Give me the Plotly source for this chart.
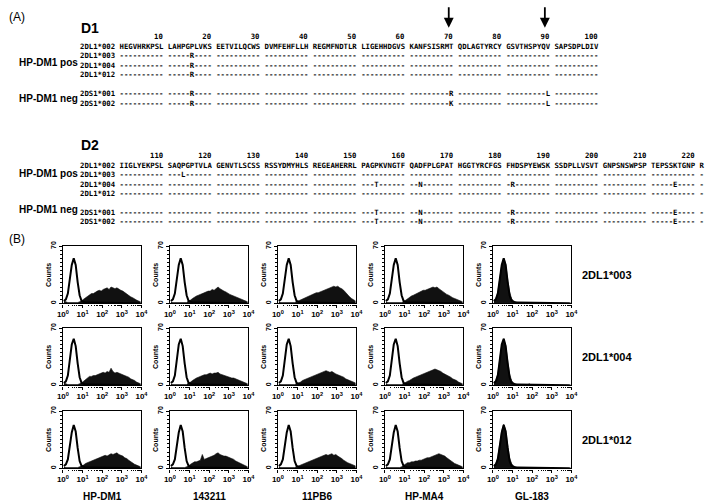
import plotly.graph_objects as go

W, H = 709, 502

# ---------------- Panel A data: sequence alignment ----------------
d1_start = 1
d1_reference = ["HEGVHRKPSL", "LAHPGPLVKS", "EETVILQCWS", "DVMFEHFLLH", "REGMFNDTLR",
                "LIGEHHDGVS", "KANFSISRMT", "QDLAGTYRCY", "GSVTHSPYQV", "SAPSDPLDIV"]
d1_alleles = ["2DL1*003", "2DL1*004", "2DL1*012", "2DS1*001", "2DS1*002"]
d1_variants = [{16: "R"}, {16: "R"}, {16: "R"},
               {16: "R", 70: "R", 90: "L"}, {16: "R", 70: "K", 90: "L"}]
d1_numbers = [10, 20, 30, 40, 50, 60, 70, 80, 90, 100]
d1_arrows = [70, 90]

d2_start = 101
d2_reference = ["IIGLYEKPSL", "SAQPGPTVLA", "GENVTLSCSS", "RSSYDMYHLS", "REGEAHERRL",
                "PAGPKVNGTF", "QADFPLGPAT", "HGGTYRCFGS", "FHDSPYEWSK", "SSDPLLVSVT",
                "GNPSNSWPSP", "TEPSSKTGNP", "R"]
d2_alleles = ["2DL1*003", "2DL1*004", "2DL1*012", "2DS1*001", "2DS1*002"]
d2_variants = [{114: "L"}, {154: "T", 163: "N", 182: "R", 216: "E"}, {},
               {154: "T", 163: "N", 182: "R", 216: "E"},
               {154: "T", 163: "N", 182: "R", 216: "E"}]
d2_numbers = [110, 120, 130, 140, 150, 160, 170, 180, 190, 200, 210, 220]
ref_allele = "2DL1*002"

# ---------------- Panel B data: flow cytometry histograms ----------------
antibodies = ["HP-DM1", "143211", "11PB6", "HP-MA4", "GL-183"]
transfectants = ["2DL1*003", "2DL1*004", "2DL1*012"]
log_bin_centers = [0.05, 0.15, 0.25, 0.35, 0.45, 0.55, 0.65, 0.75, 0.85, 0.95,
                   1.05, 1.15, 1.25, 1.35, 1.45, 1.55, 1.65, 1.75, 1.85, 1.95,
                   2.05, 2.15, 2.25, 2.35, 2.45, 2.55, 2.65, 2.75, 2.85, 2.95,
                   3.05, 3.15, 3.25, 3.35, 3.45, 3.55, 3.65, 3.75, 3.85, 3.95]

ctrl_003 = [3, 5, 12, 28, 47, 55, 47, 26, 10, 3, 1.5, 1, 1, 1, 1, 0.5, 0.5, 0.5, 0.5, 0.5,
            0.5, 0.5, 0.5, 0.5, 0.5, 0.5, 0.5, 0.5, 0.5, 0.5, 0.3, 0.3, 0.3, 0.3, 0.3, 0.2, 0.2, 0.2, 0.1, 0]
ctrl_004 = [3, 5, 12, 30, 50, 57, 48, 27, 10, 3, 1.5, 1, 1, 1, 1, 0.5, 0.5, 0.5, 0.5, 0.5,
            0.5, 0.5, 0.5, 0.5, 0.5, 0.5, 0.5, 0.5, 0.5, 0.5, 0.3, 0.3, 0.3, 0.3, 0.3, 0.2, 0.2, 0.2, 0.1, 0]
ctrl_012 = [3, 5, 11, 26, 44, 53, 45, 25, 9, 3, 1.5, 1, 1, 1, 1, 0.5, 0.5, 0.5, 0.5, 0.5,
            0.5, 0.5, 0.5, 0.5, 0.5, 0.5, 0.5, 0.5, 0.5, 0.5, 0.3, 0.3, 0.3, 0.3, 0.3, 0.2, 0.2, 0.2, 0.1, 0]

hpdm1_003 = [3, 2, 1, 1, 1, 1, 1, 1, 2, 3, 5, 7, 9, 11, 12, 12, 14, 15, 16, 15,
             17, 18, 19, 17, 20, 19, 18, 19, 17, 16, 15, 13, 12, 10, 8, 7, 5, 4, 3, 2]
m143211_003 = [2, 1, 1, 1, 1, 1, 1, 1, 1, 3, 4, 6, 8, 9, 10, 11, 12, 13, 14, 15,
               15, 17, 16, 18, 20, 18, 16, 15, 14, 12, 11, 10, 9, 8, 7, 6, 5, 4, 3, 2]
pb6_003 = [2, 1, 1, 1, 1, 1, 1, 1, 1, 2, 3, 4, 5, 6, 8, 9, 10, 11, 12, 13,
           13, 14, 15, 16, 17, 18, 19, 20, 21, 20, 21, 19, 18, 16, 13, 10, 8, 6, 4, 3]
hpma4_003 = [2, 1, 1, 1, 1, 1, 1, 1, 1, 2, 4, 5, 7, 9, 10, 11, 12, 14, 15, 16,
             16, 17, 18, 19, 20, 19, 20, 18, 16, 14, 12, 11, 10, 8, 7, 6, 5, 4, 3, 2]
gl183_003 = [3, 6, 14, 31, 47, 55, 48, 30, 14, 6, 3, 2, 1, 1, 1, 1, 0.5, 0.5, 0.5, 0.5,
             0.5, 0.5, 0.3, 0.3, 0.3, 0.3, 0.3, 0.3, 0.2, 0.2, 0.2, 0.2, 0.1, 0.1, 0.1, 0.1, 0, 0, 0, 0]

hpdm1_004 = [3, 2, 1, 1, 1, 1, 1, 1, 2, 3, 5, 7, 9, 11, 11, 12, 12, 13, 14, 15,
             16, 15, 17, 16, 21, 17, 15, 16, 15, 14, 13, 12, 11, 10, 8, 7, 6, 4, 3, 2]
m143211_004 = [2, 1, 1, 1, 1, 1, 1, 1, 1, 3, 4, 6, 8, 9, 10, 11, 12, 13, 13, 14,
               15, 14, 15, 15, 16, 14, 13, 13, 12, 11, 10, 9, 9, 8, 7, 6, 5, 4, 3, 2]
pb6_004 = [2, 1, 1, 1, 1, 1, 1, 1, 1, 2, 3, 4, 6, 7, 8, 9, 10, 11, 12, 13,
           14, 15, 16, 17, 18, 17, 16, 17, 15, 14, 13, 12, 11, 10, 8, 7, 6, 5, 4, 3]
hpma4_004 = [2, 1, 1, 1, 1, 1, 1, 1, 1, 2, 4, 5, 6, 8, 9, 10, 11, 12, 13, 14,
             15, 16, 17, 18, 19, 20, 19, 18, 17, 15, 14, 12, 11, 10, 8, 7, 6, 4, 3, 2]
gl183_004 = [3, 6, 15, 32, 49, 57, 49, 31, 14, 6, 3, 2, 1, 1, 1, 1, 0.5, 0.5, 2, 0.5,
             0.5, 0.5, 0.3, 0.3, 0.3, 0.3, 0.3, 0.3, 0.2, 0.2, 0.2, 0.2, 0.1, 0.1, 0.1, 0.1, 0, 0, 0, 0]

hpdm1_012 = [2, 1, 1, 1, 1, 1, 1, 1, 2, 3, 4, 6, 7, 8, 9, 10, 11, 12, 13, 14,
             15, 16, 15, 17, 18, 17, 18, 19, 17, 16, 15, 13, 12, 10, 8, 6, 5, 4, 3, 2]
m143211_012 = [2, 1, 1, 1, 1, 1, 1, 1, 2, 3, 5, 7, 8, 8, 9, 10, 17, 11, 12, 13,
               14, 15, 16, 18, 19, 17, 16, 15, 15, 14, 13, 12, 11, 9, 8, 7, 5, 4, 3, 2]
pb6_012 = [2, 1, 1, 1, 1, 1, 1, 1, 1, 2, 3, 4, 5, 6, 7, 8, 9, 10, 11, 12,
           13, 14, 15, 16, 17, 16, 17, 18, 16, 17, 15, 14, 12, 10, 8, 7, 6, 5, 4, 3]
hpma4_012 = [2, 1, 1, 1, 1, 1, 1, 1, 2, 4, 6, 7, 7, 8, 8, 9, 9, 10, 10, 11,
             12, 13, 13, 14, 15, 16, 17, 18, 17, 16, 15, 13, 11, 9, 7, 6, 5, 4, 3, 2]
gl183_012 = [3, 6, 14, 30, 46, 54, 47, 29, 13, 6, 3, 2, 1, 1, 1, 1, 0.5, 0.5, 0.5, 0.5,
             0.5, 0.5, 0.3, 0.3, 0.3, 0.3, 0.3, 0.3, 0.2, 0.2, 0.2, 0.2, 0.1, 0.1, 0.1, 0.1, 0, 0, 0, 0]

stained = [[hpdm1_003, m143211_003, pb6_003, hpma4_003, gl183_003],
           [hpdm1_004, m143211_004, pb6_004, hpma4_004, gl183_004],
           [hpdm1_012, m143211_012, pb6_012, hpma4_012, gl183_012]]
controls = [ctrl_003, ctrl_004, ctrl_012]

x_tick_values = [1, 10, 100, 1000, 10000]
x_tick_labels = ["10<sup>0</sup>", "10<sup>1</sup>", "10<sup>2</sup>", "10<sup>3</sup>", "10<sup>4</sup>"]
y_tick_values = [0, 70]

# ---------------- layout helpers ----------------
def px(x):
    return x / W

def py(y):
    return 1 - y / H

NB = "\u00a0"
SANS = "Liberation Sans, Arial, sans-serif"
MONO = "DejaVu Sans Mono, monospace"
CW = 4.45   # rendered char width px
FS_MONO = 7.3
X0 = 75

annotations = []

def txt(x, y, s, size, bold=False, xanchor="left", angle=0, family=SANS):
    annotations.append(dict(
        x=px(x), y=py(y), xref="paper", yref="paper", text=s, showarrow=False,
        xanchor=xanchor, yanchor="middle", textangle=angle, borderpad=0,
        font=dict(family=family, size=size, color="black", weight="bold" if bold else "normal")))

def seq_line(blocks):
    return " ".join(blocks)

def variant_blocks(ref_blocks, start, variants):
    out = []
    pos = start
    for b in ref_blocks:
        s = ""
        for _ in b:
            s += variants.get(pos, "-")
            pos += 1
        out.append(s)
    return out

def mono(y, s, x=X0):
    annotations.append(dict(
        x=px(x), y=py(y), xref="paper", yref="paper", text=s.replace(" ", NB),
        showarrow=False, xanchor="left", yanchor="middle", borderpad=0, borderwidth=0,
        font=dict(family=MONO, size=FS_MONO, color="black", weight="bold")))

def alignment(title, title_y, nums, ref_blocks, start, alleles, variants, ys):
    txt(75, title_y, title, 14, bold=True)
    num_line = " ".join(f"{n:>10}" for n in nums)
    mono(ys[0], num_line.lstrip(), x=X0 + (9 + 10 - len(str(nums[0]))) * CW)
    mono(ys[1], ref_allele + " " + seq_line(ref_blocks))
    for yy, allele, var in zip(ys[2:], alleles, variants):
        mono(yy, allele + " " + seq_line(variant_blocks(ref_blocks, start, var)))

txt(2, 12, "(A)", 12)
alignment("D1", 23, d1_numbers, d1_reference, d1_start, d1_alleles, d1_variants,
          [32, 42, 51.6, 61.2, 70.8, 90, 99.6])
txt(12, 58, "HP-DM1 pos", 10, bold=True)
txt(12, 95, "HP-DM1 neg", 10, bold=True)

alignment("D2", 142, d2_numbers, d2_reference, d2_start, d2_alleles, d2_variants,
          [152, 162, 171.6, 181.2, 190.8, 210, 219.6])
txt(12, 171, "HP-DM1 pos", 10, bold=True)
txt(12, 207, "HP-DM1 neg", 10, bold=True)

# arrows above residues 70 and 90
for p in d1_arrows:
    col = 9 + ((p - 1) // 10) * 11 + ((p - 1) % 10)
    xa = X0 + (col + 0.5) * CW
    annotations.append(dict(x=px(xa), y=py(23), xref="paper", yref="paper", text="",
                            showarrow=True, ax=0, ay=-22, arrowhead=2, arrowsize=1.1,
                            arrowwidth=1.8, arrowcolor="black"))

txt(2, 237, "(B)", 12)

# ---------------- histograms ----------------
fig = go.Figure()
col_lefts = [58, 167, 277, 386, 496]
col_w = 80
row_tops = [244, 327, 411]
row_h = 58
x_vals = [10 ** c for c in log_bin_centers]
minor_x = [m * 10 ** d for d in range(4) for m in range(2, 10)]

layout_axes = {}
for r in range(3):
    for c in range(5):
        k = r * 5 + c + 1
        xs = "x" if k == 1 else f"x{k}"
        ys = "y" if k == 1 else f"y{k}"
        fig.add_trace(go.Scatter(x=x_vals, y=stained[r][c], mode="lines", fill="tozeroy",
                                 fillcolor="#111111", line=dict(color="#111111", width=0.6),
                                 xaxis=xs, yaxis=ys, showlegend=False, hoverinfo="skip"))
        fig.add_trace(go.Scatter(x=x_vals, y=controls[r], mode="lines",
                                 line=dict(color="black", width=2),
                                 xaxis=xs, yaxis=ys, showlegend=False, hoverinfo="skip"))
        left = col_lefts[c]
        top = row_tops[r]
        xname = "xaxis" if k == 1 else f"xaxis{k}"
        yname = "yaxis" if k == 1 else f"yaxis{k}"
        layout_axes[xname] = dict(
            type="log", range=[0, 4], domain=[px(left), px(left + col_w)], anchor=ys,
            tickmode="array", tickvals=x_tick_values, ticktext=x_tick_labels,
            ticks="outside", ticklen=3, tickwidth=1, tickcolor="black",
            showline=True, linecolor="black", linewidth=1.3, mirror=True,
            showgrid=False, zeroline=False,
            tickfont=dict(family=SANS, size=8, color="black", weight="bold"),
            minor=dict(tickvals=minor_x, ticks="outside", ticklen=1.5, tickwidth=0.7,
                       tickcolor="black", showgrid=False))
        layout_axes[yname] = dict(
            range=[0, 70], domain=[py(top + row_h), py(top)], anchor=xs,
            tickmode="array", tickvals=y_tick_values, tickangle=-90,
            ticks="outside", ticklen=3, tickwidth=1, tickcolor="black",
            showline=True, linecolor="black", linewidth=1.3, mirror=True,
            showgrid=False, zeroline=False,
            tickfont=dict(family=SANS, size=7, color="black", weight="bold"),
            minor=dict(dtick=5, ticks="outside", ticklen=1.5, tickwidth=0.7,
                       tickcolor="black", showgrid=False))
        txt(left - 14, top + row_h / 2, "Counts", 7, bold=True, xanchor="center", angle=-90)

for c, name in enumerate(antibodies):
    txt(col_lefts[c] + col_w / 2, 497, name, 10, bold=True, xanchor="center")
for r, name in enumerate(transfectants):
    txt(586, row_tops[r] + row_h / 2, name, 11, bold=True)

fig.update_layout(width=W, height=H, margin=dict(l=0, r=0, t=0, b=0),
                  paper_bgcolor="white", plot_bgcolor="white",
                  annotations=annotations, **layout_axes)

fig.write_html("out.html", config={"displayModeBar": False},
               post_script="document.body.style.margin='0';document.body.style.padding='0';document.body.style.overflow='hidden';")
